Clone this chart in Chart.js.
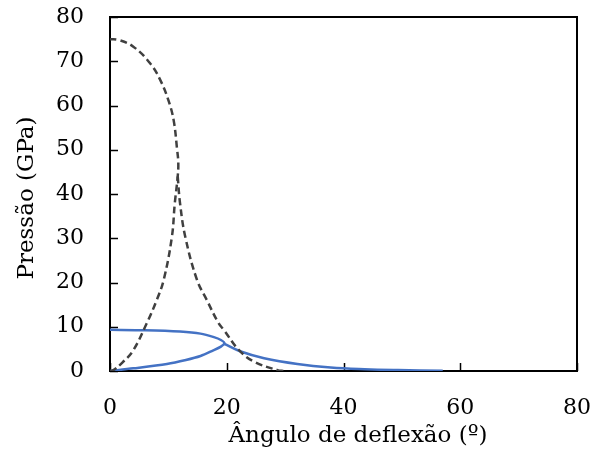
<!DOCTYPE html>
<html>
<head>
<meta charset="utf-8">
<script src="https://cdn.jsdelivr.net/npm/chart.js@4.4.1/dist/chart.umd.min.js"></script>
<style>
  html, body { margin: 0; padding: 0; background: #fff; }
  #wrap { width: 602px; height: 452px; }
</style>
</head>
<body>
<div id="wrap"><canvas id="c" width="602" height="452"></canvas></div>
<script>
// Shock polar of the first material (dashed): from the origin up to the
// maximum deflection and back to the normal-shock pressure.
const polarDeflection = [0, 0.6, 2.2, 4.0, 6.3, 8.0, 9.2, 10.6, 11.1, 11.6, 11.7, 11.5, 10.9, 10.0, 8.6, 6.9, 4.0, 1.5, 0];
const polarPressure   = [0, 0.2, 2.0, 4.7, 10.8, 16.0, 20.6, 30.3, 37.9, 44.0, 47.0, 50.0, 56.7, 61.2, 65.8, 69.5, 73.3, 74.8, 75];

// Reflected branch (dashed) running from the intersection down to zero pressure.
const reflDeflection = [11.6, 12.0, 12.9, 14.9, 16.6, 18.6, 19.5, 22.1, 24.7, 28.7, 29.8];
const reflPressure   = [44.0, 37.9, 30.3, 20.6, 16.0, 10.8, 9.3, 4.7, 2.1, 0.2, 0];

// Second material (solid): closed polar from the normal-shock point round the
// maximum deflection back to the origin, then the outgoing branch.
const loopDeflection = [0, 6.0, 12.0, 15.5, 17.8, 19.0, 19.6, 19.0, 17.6, 15.5, 13.0, 9.75, 4.0, 0];
const loopPressure   = [9.3, 9.2, 8.9, 8.45, 7.65, 7.0, 6.3, 5.5, 4.6, 3.4, 2.5, 1.6, 0.6, 0];
const outDeflection  = [19.5, 22.4, 26.4, 32.1, 37.8, 43.6, 49.3, 57.0];
const outPressure    = [6.2, 4.4, 2.9, 1.6, 0.8, 0.4, 0.2, 0.05];

// Axis ranges and titles
const xTicks = [0, 20, 40, 60, 80];
const yTicks = [0, 10, 20, 30, 40, 50, 60, 70, 80];
const xTitle = 'Ângulo de deflexão (º)';
const yTitle = 'Pressão (GPa)';

const FONT = '"DejaVu Serif", "Liberation Serif", serif';
const DASH_COLOR = '#404040';
const BLUE = '#4472C4';

function pts(xs, ys) { return xs.map((x, i) => ({ x: x, y: ys[i] })); }

function lineSet(xs, ys, color, dashed, tension) {
  return {
    data: pts(xs, ys),
    showLine: true,
    borderColor: color,
    borderWidth: 2.5,
    borderDash: dashed ? [7, 4] : [],
    pointRadius: 0,
    pointHoverRadius: 0,
    tension: tension,
    fill: false
  };
}

// Frame, inward tick marks and axis titles
const framePlugin = {
  id: 'frame',
  beforeDatasetsDraw(chart) {
    const { ctx, chartArea: a, scales } = chart;
    ctx.save();
    ctx.strokeStyle = '#000';
    ctx.lineWidth = 2;
    ctx.strokeRect(a.left, a.top, a.right - a.left, a.bottom - a.top);
    ctx.lineWidth = 1.5;
    ctx.beginPath();
    xTicks.forEach(v => {
      const px = Math.round(scales.x.getPixelForValue(v)) + 0.5;
      ctx.moveTo(px, a.bottom);
      ctx.lineTo(px, a.bottom - 8);
    });
    yTicks.forEach(v => {
      const py = Math.round(scales.y.getPixelForValue(v)) + 0.5;
      ctx.moveTo(a.left, py);
      ctx.lineTo(a.left + 8, py);
    });
    ctx.stroke();
    ctx.restore();
  },
  afterDraw(chart) {
    const { ctx } = chart;
    ctx.save();
    ctx.fillStyle = '#000';
    ctx.font = '23px ' + FONT;
    ctx.textAlign = 'center';
    ctx.textBaseline = 'alphabetic';
    ctx.fillText(xTitle, 358, 442);
    ctx.translate(33, 198);
    ctx.rotate(-Math.PI / 2);
    ctx.fillText(yTitle, 0, 0);
    ctx.restore();
  }
};

new Chart(document.getElementById('c'), {
  type: 'scatter',
  data: {
    datasets: [
      lineSet(polarDeflection, polarPressure, DASH_COLOR, true, 0.4),
      lineSet(reflDeflection, reflPressure, DASH_COLOR, true, 0.4),
      lineSet(loopDeflection, loopPressure, BLUE, false, 0.3),
      lineSet(outDeflection, outPressure, BLUE, false, 0.4)
    ]
  },
  options: {
    responsive: false,
    animation: false,
    devicePixelRatio: 1,
    layout: { padding: { left: 0, top: 17, right: 25, bottom: 0 } },
    plugins: { legend: { display: false }, tooltip: { enabled: false } },
    scales: {
      x: {
        type: 'linear', min: 0, max: 80,
        afterBuildTicks: s => { s.ticks = xTicks.map(v => ({ value: v })); },
        afterFit: s => { s.height = 81; s.paddingLeft = 0; s.paddingRight = 0; },
        grid: { display: false, drawTicks: false },
        border: { display: false },
        ticks: { color: '#000', padding: 24, maxRotation: 0, font: { family: FONT, size: 22 } }
      },
      y: {
        type: 'linear', min: 0, max: 80,
        afterBuildTicks: s => { s.ticks = yTicks.map(v => ({ value: v })); },
        afterFit: s => { s.width = 110; s.paddingTop = 0; s.paddingBottom = 0; },
        grid: { display: false, drawTicks: false },
        border: { display: false },
        ticks: { color: '#000', padding: 26, font: { family: FONT, size: 22 } }
      }
    }
  },
  plugins: [framePlugin]
});
</script>
</body>
</html>
